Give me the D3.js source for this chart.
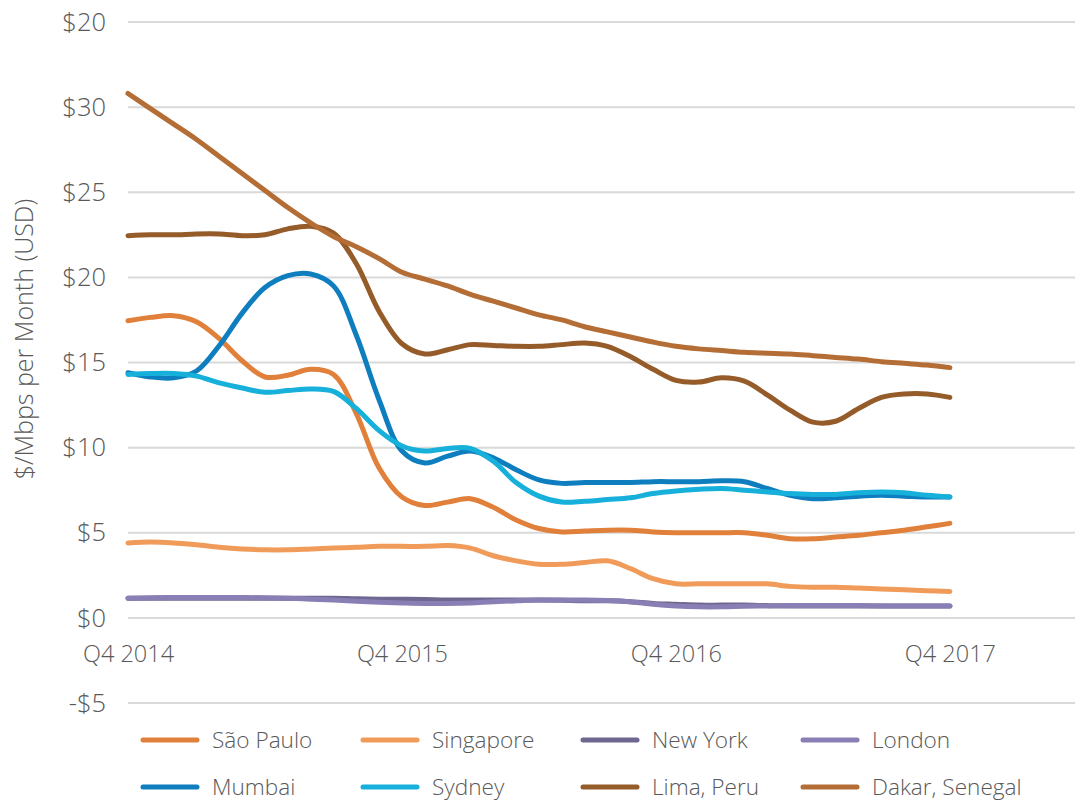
<!DOCTYPE html>
<html>
<head>
<meta charset="utf-8">
<script src="https://cdn.jsdelivr.net/npm/d3@7"></script>
<style>
  body { margin: 0; background: #fff; }
  text { font-family: "Open Sans", sans-serif; font-weight: 300; fill: #595959; }
</style>
</head>
<body>
<script>
// monthly points, Q4 2014 (index 0) to Q4 2017 (index 36)
const quarterLabels = ['Q4 2014', 'Q4 2015', 'Q4 2016', 'Q4 2017'];
const quarterIndex = [0, 12, 24, 36];
const yTicks = [-5, 0, 5, 10, 15, 20, 25, 30, 35];
const yTickLabels = ['-$5', '$0', '$5', '$10', '$15', '$20', '$25', '$30', '$20'];

const cities = ['São Paulo', 'Singapore', 'New York', 'London', 'Mumbai', 'Sydney', 'Lima, Peru', 'Dakar, Senegal'];
const colors = ['#E0803A', '#F09B59', '#6E6790', '#8A7FB4', '#0E7EBF', '#16B0DB', '#955B29', '#B46D34'];

const saoPaulo = [17.45, 17.65, 17.75, 17.4, 16.4, 15.1, 14.15, 14.25, 14.6, 14.3, 12.0, 8.8, 7.1, 6.6, 6.8, 7.0, 6.5, 5.75, 5.25, 5.05, 5.1, 5.15, 5.15, 5.05, 5.0, 5.0, 5.0, 5.0, 4.85, 4.65, 4.65, 4.75, 4.85, 5.0, 5.15, 5.35, 5.55];
const singapore = [4.4, 4.45, 4.4, 4.3, 4.15, 4.05, 4.0, 4.0, 4.05, 4.1, 4.15, 4.2, 4.2, 4.2, 4.25, 4.1, 3.65, 3.35, 3.15, 3.15, 3.25, 3.35, 2.9, 2.3, 2.0, 2.0, 2.0, 2.0, 2.0, 1.85, 1.8, 1.8, 1.75, 1.7, 1.65, 1.6, 1.55];
const newYork = [1.15, 1.15, 1.15, 1.15, 1.15, 1.15, 1.15, 1.15, 1.15, 1.15, 1.12, 1.1, 1.1, 1.08, 1.05, 1.05, 1.05, 1.05, 1.05, 1.03, 1.0, 1.0, 0.95, 0.85, 0.8, 0.75, 0.75, 0.75, 0.72, 0.7, 0.7, 0.7, 0.7, 0.7, 0.7, 0.7, 0.7];
const london = [1.15, 1.18, 1.2, 1.2, 1.2, 1.2, 1.18, 1.15, 1.1, 1.05, 0.98, 0.92, 0.88, 0.85, 0.85, 0.88, 0.95, 1.0, 1.05, 1.05, 1.05, 1.02, 0.95, 0.8, 0.7, 0.65, 0.65, 0.68, 0.7, 0.72, 0.72, 0.72, 0.72, 0.7, 0.7, 0.7, 0.7];
const mumbai = [14.4, 14.15, 14.1, 14.5, 16.0, 17.9, 19.4, 20.1, 20.2, 19.5, 16.6, 12.8, 9.8, 9.1, 9.5, 9.8, 9.4, 8.7, 8.1, 7.9, 7.95, 7.95, 7.95, 8.0, 8.0, 8.0, 8.05, 8.0, 7.6, 7.2, 7.0, 7.05, 7.15, 7.2, 7.15, 7.1, 7.1];
const sydney = [14.3, 14.35, 14.35, 14.2, 13.8, 13.5, 13.25, 13.35, 13.45, 13.3, 12.3, 11.0, 10.1, 9.8, 9.95, 9.95, 9.2, 7.95, 7.15, 6.8, 6.85, 6.95, 7.05, 7.3, 7.45, 7.55, 7.6, 7.5, 7.4, 7.3, 7.25, 7.25, 7.35, 7.4, 7.35, 7.2, 7.1];
const lima = [22.45, 22.5, 22.5, 22.55, 22.55, 22.45, 22.5, 22.85, 23.0, 22.6, 20.8, 18.0, 16.1, 15.5, 15.75, 16.05, 16.0, 15.95, 15.95, 16.05, 16.15, 15.95, 15.35, 14.6, 13.95, 13.85, 14.1, 13.9, 13.1, 12.2, 11.5, 11.55, 12.3, 12.95, 13.15, 13.15, 12.95];
const dakar = [30.8, 29.9, 29.0, 28.1, 27.1, 26.1, 25.1, 24.1, 23.2, 22.4, 21.8, 21.1, 20.3, 19.9, 19.5, 19.0, 18.6, 18.2, 17.8, 17.5, 17.1, 16.8, 16.5, 16.2, 15.95, 15.8, 15.7, 15.6, 15.55, 15.5, 15.4, 15.3, 15.2, 15.05, 14.95, 14.85, 14.7];

const series = [saoPaulo, singapore, newYork, london, mumbai, sydney, lima, dakar];

const W = 1075, H = 803;
const svg = d3.select('body').append('svg')
  .attr('width', W)
  .attr('height', H);

const x = d3.scaleLinear().domain([0, 41.48]).range([128, 1075]);
const y = d3.scaleLinear().domain([-5, 35]).range([703, 22]);

// gridlines
svg.append('g')
  .selectAll('line')
  .data(yTicks)
  .enter().append('line')
  .attr('x1', 128)
  .attr('x2', 1075)
  .attr('y1', d => y(d))
  .attr('y2', d => y(d))
  .attr('stroke', '#D9D9D9')
  .attr('stroke-width', 2);

// y axis labels
const yAxis = svg.append('g')
  .attr('transform', 'translate(106,0)')
  .call(d3.axisLeft(y).tickValues(yTicks).tickFormat((d, i) => yTickLabels[i]).tickSize(0).tickPadding(0));
yAxis.select('.domain').remove();
yAxis.selectAll('text')
  .style('font-family', '"Open Sans", sans-serif')
  .style('font-weight', 300)
  .style('font-size', '25.5px')
  .attr('fill', '#595959');

// x axis labels
const xAxis = svg.append('g')
  .attr('transform', 'translate(0,645)')
  .call(d3.axisBottom(x).tickValues(quarterIndex).tickFormat((d, i) => quarterLabels[i]).tickSize(0).tickPadding(0));
xAxis.select('.domain').remove();
xAxis.selectAll('text')
  .style('font-family', '"Open Sans", sans-serif')
  .style('font-weight', 300)
  .style('font-size', '23.5px')
  .attr('fill', '#595959');

// y title
svg.append('text')
  .attr('transform', 'translate(33,339) rotate(-90)')
  .attr('text-anchor', 'middle')
  .style('font-size', '25px')
  .text('$/Mbps per Month (USD)');

const line = d3.line()
  .x((d, i) => x(i))
  .y(d => y(d))
  .curve(d3.curveCatmullRom.alpha(0.5));

svg.append('g')
  .selectAll('path')
  .data(series)
  .enter().append('path')
  .attr('d', d => line(d))
  .attr('fill', 'none')
  .attr('stroke', (d, i) => colors[i])
  .attr('stroke-width', 5)
  .attr('stroke-linecap', 'round')
  .attr('stroke-linejoin', 'round');

// legend
const legend = svg.append('g');
const item = legend.selectAll('g')
  .data(cities)
  .enter().append('g')
  .attr('transform', (d, i) => `translate(${143 + (i % 4) * 220},${i < 4 ? 740 : 787})`);

item.append('line')
  .attr('x1', 0)
  .attr('x2', 54)
  .attr('stroke', (d, i) => colors[i])
  .attr('stroke-width', 5)
  .attr('stroke-linecap', 'round');

item.append('text')
  .attr('x', 69)
  .attr('dy', '0.35em')
  .style('font-size', '22.6px')
  .text(d => d);
</script>
</body>
</html>
